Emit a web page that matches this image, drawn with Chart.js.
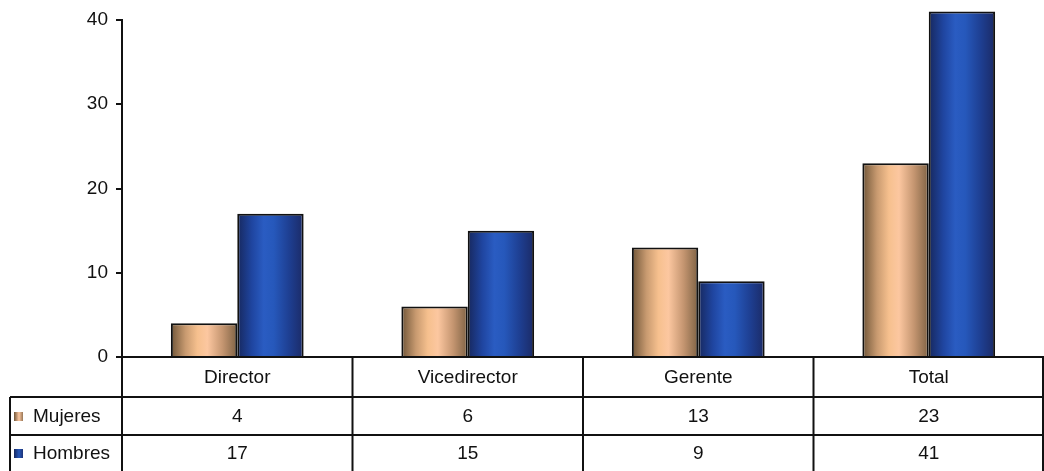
<!DOCTYPE html>
<html>
<head>
<meta charset="utf-8">
<script src="https://cdn.jsdelivr.net/npm/chart.js@4/dist/chart.umd.min.js"></script>
<style>
  html, body { margin: 0; padding: 0; background: #ffffff; }
  #wrap { width: 1044px; height: 471px; position: relative; }
</style>
</head>
<body>
<div id="wrap"><canvas id="grafica"></canvas></div>
<script>
const categorias = ["Director", "Vicedirector", "Gerente", "Total"];
const mujeres = [4, 6, 13, 23];
const hombres = [17, 15, 9, 41];
const series = ["Mujeres", "Hombres"];
const ticksY = [0, 10, 20, 30, 40];

const FUENTE = '"Liberation Sans", Arial, sans-serif';
const ANCHO_GRUPO = 0.576;

// colores del degradado (borde oscuro, centro claro, borde oscuro)
const paletas = [
  ["#6f5538", "#c89a70", "#f6c08e", "#fcc7a0", "#c49570", "#7e6244"],
  ["#17285e", "#1f45a0", "#2a5cc2", "#2658bb", "#1e3f92", "#1b2a66"]
];

function degradado(ctx) {
  const chart = ctx.chart;
  const area = chart.chartArea;
  const pal = paletas[ctx.datasetIndex];
  if (!area || ctx.dataIndex === undefined) return pal[2];
  const xs = chart.scales.x;
  const centro = xs.getPixelForValue(ctx.dataIndex);
  const catW = (area.right - area.left) / categorias.length;
  const total = catW * ANCHO_GRUPO;
  const bw = total / 2;
  const izq = centro - total / 2 + ctx.datasetIndex * bw;
  const g = chart.ctx.createLinearGradient(izq, 0, izq + bw, 0);
  const stops = [0, 0.22, 0.4, 0.55, 0.78, 1];
  stops.forEach((s, i) => g.addColorStop(s, pal[i]));
  return g;
}

// TABLA DE DATOS debajo del eje
const tablaDatos = {
  id: "tablaDatos",
  afterDraw(chart) {
    const ctx = chart.ctx;
    const area = chart.chartArea;
    const xs = chart.scales.x;
    const y0 = area.bottom;
    const y1 = y0 + 40;
    const y2 = y1 + 38;
    const y3 = chart.height;
    const xIzq = 10;
    const xDer = chart.width - 1;

    const bordes = [area.left];
    for (let i = 0; i < categorias.length - 1; i++) {
      bordes.push((xs.getPixelForValue(i) + xs.getPixelForValue(i + 1)) / 2);
    }
    bordes.push(xDer);

    ctx.save();
    ctx.strokeStyle = "#111111";
    ctx.lineWidth = 2;
    ctx.beginPath();
    ctx.moveTo(area.left, y0); ctx.lineTo(chart.width, y0);
    ctx.moveTo(xIzq, y1); ctx.lineTo(xDer, y1);
    ctx.moveTo(xIzq, y2); ctx.lineTo(xDer, y2);
    ctx.moveTo(xIzq, y1); ctx.lineTo(xIzq, y3);
    bordes.forEach(b => { ctx.moveTo(b, y0); ctx.lineTo(b, y3); });
    ctx.stroke();

    ctx.fillStyle = "#111111";
    ctx.font = "19px " + FUENTE;
    ctx.textAlign = "center";
    ctx.textBaseline = "middle";
    categorias.forEach((c, i) => {
      const cx = xs.getPixelForValue(i);
      ctx.fillText(c, cx, (y0 + y1) / 2 + 1);
      ctx.fillText(String(mujeres[i]), cx, (y1 + y2) / 2 + 1);
      ctx.fillText(String(hombres[i]), cx, (y2 + y3) / 2 + 1);
    });

    // leyenda dentro de la tabla
    ctx.textAlign = "left";
    [(y1 + y2) / 2, (y2 + y3) / 2].forEach((cy, k) => {
      const pal = paletas[k];
      const g = ctx.createLinearGradient(14, 0, 24, 0);
      g.addColorStop(0, pal[0]);
      g.addColorStop(0.5, pal[3]);
      g.addColorStop(1, pal[5]);
      ctx.fillStyle = g;
      ctx.fillRect(14, cy - 4, 9, 9);
      ctx.fillStyle = "#111111";
      ctx.fillText(series[k], 33, cy + 1);
    });
    ctx.restore();
  }
};

const estiloBarra = {
  backgroundColor: degradado,
  borderColor: "#111111",
  borderWidth: 2,
  borderSkipped: "bottom",
  categoryPercentage: ANCHO_GRUPO,
  barPercentage: 1,
  clip: false
};

new Chart(document.getElementById("grafica"), {
  type: "bar",
  data: {
    labels: categorias,
    datasets: [
      { label: series[0], data: mujeres, ...estiloBarra },
      { label: series[1], data: hombres, ...estiloBarra }
    ]
  },
  options: {
    responsive: true,
    maintainAspectRatio: false,
    animation: false,
    layout: { padding: { top: 20, right: 0, bottom: 114, left: 0 } },
    plugins: {
      legend: { display: false },
      tooltip: { enabled: false }
    },
    scales: {
      x: { display: false },
      y: {
        min: 0,
        max: 40,
        afterBuildTicks(scale) {
          scale.ticks = ticksY.map(v => ({ value: v }));
        },
        afterFit(scale) { scale.width = 122; },
        border: { display: true, color: "#111111", width: 2 },
        grid: {
          drawOnChartArea: false,
          drawTicks: true,
          tickLength: 6,
          color: "#111111",
          lineWidth: 2
        },
        ticks: {
          color: "#111111",
          padding: 8,
          font: { family: FUENTE, size: 19 }
        }
      }
    }
  },
  plugins: [tablaDatos]
});
</script>
</body>
</html>
